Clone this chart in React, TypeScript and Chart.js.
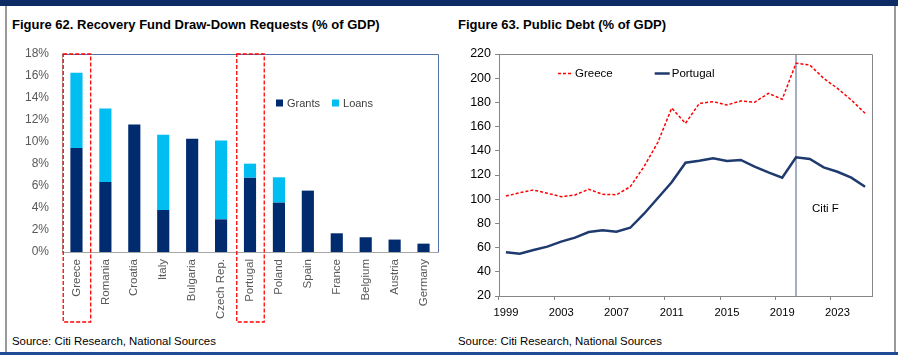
import React, { useEffect, useRef } from 'react';
import { Chart, registerables } from 'chart.js';

Chart.register(...registerables);

const FONT = '"Liberation Sans", Arial, sans-serif';
Chart.defaults.font.family = FONT;
Chart.defaults.font.size = 12;

// ---------- Figure 62 data ----------
const countries = ['Greece', 'Romania', 'Croatia', 'Italy', 'Bulgaria', 'Czech Rep.', 'Portugal', 'Poland', 'Spain', 'France', 'Belgium', 'Austria', 'Germany'];
const grants = [9.45, 6.36, 11.6, 3.82, 10.3, 2.97, 6.76, 4.49, 5.58, 1.7, 1.34, 1.13, 0.76];
const loans = [6.85, 6.68, 0, 6.85, 0, 7.16, 1.27, 2.3, 0, 0, 0, 0, 0];
const highlighted = ['Greece', 'Portugal'];
const barSeriesNames = ['Grants', 'Loans'];

// ---------- Figure 63 data ----------
const years = ['1999', '2000', '2001', '2002', '2003', '2004', '2005', '2006', '2007', '2008', '2009', '2010', '2011', '2012', '2013', '2014', '2015', '2016', '2017', '2018', '2019', '2020', '2021', '2022', '2023', '2024', '2025'];
const greeceDebt = [102.6, 105.4, 107.6, 104.9, 102.1, 103.5, 108.2, 104.0, 103.7, 110.3, 127, 147, 175.3, 162.7, 179.2, 180.6, 177.9, 181.2, 180.1, 187.5, 182.6, 212.3, 210.9, 199.9, 191.6, 182, 171];
const portugalDebt = [56.1, 55.0, 58.0, 60.8, 64.9, 68.2, 72.9, 74.3, 73.2, 76.4, 88, 101, 114, 130.2, 131.8, 133.8, 131.6, 132.4, 126.9, 122.2, 117.8, 134.6, 133.2, 126.3, 122.7, 117.8, 110.3];
const lineSeriesNames = ['Greece', 'Portugal'];
const forecastStart = '2020';
const forecastLabel = 'Citi F';

const NAVY = '#002B6F';
const CYAN = '#00BDF2';

function BarChart() {
  const ref = useRef<HTMLCanvasElement | null>(null);
  useEffect(() => {
    if (!ref.current) return;
    const frame = {
      id: 'frame62',
      afterDraw(chart: any) {
        const { ctx, chartArea: ca } = chart;
        ctx.save();
        ctx.strokeStyle = '#5473AE';
        ctx.lineWidth = 1;
        ctx.beginPath();
        ctx.moveTo(ca.left, ca.top + 0.5);
        ctx.lineTo(ca.right + 0.5, ca.top + 0.5);
        ctx.lineTo(ca.right + 0.5, ca.bottom);
        ctx.stroke();
        // legend
        let x = ca.left + 214;
        const y = ca.top + 49;
        ctx.font = '11px ' + FONT;
        ctx.textBaseline = 'middle';
        chart.data.datasets.forEach((ds: any) => {
          ctx.fillStyle = ds.backgroundColor;
          ctx.fillRect(x, y - 3.5, 7, 7);
          ctx.fillStyle = '#404040';
          ctx.fillText(ds.label, x + 11, y + 0.5);
          x += 11 + ctx.measureText(ds.label).width + 12;
        });
        // highlight boxes
        const xs = chart.scales.x;
        const cw = xs.width / chart.data.labels.length;
        ctx.strokeStyle = '#FF0000';
        ctx.lineWidth = 1.3;
        ctx.setLineDash([4, 2]);
        highlighted.forEach((name) => {
          const i = chart.data.labels.indexOf(name);
          const cx = xs.getPixelForValue(i);
          const w = cw * 0.95;
          ctx.strokeRect(cx - w / 2 + 0.5, ca.top, w, ca.bottom + 70 - ca.top);
        });
        ctx.restore();
      },
    };
    const chart = new Chart(ref.current, {
      type: 'bar',
      data: {
        labels: countries,
        datasets: [
          { label: barSeriesNames[0], data: grants, backgroundColor: NAVY, barPercentage: 0.42, categoryPercentage: 1 },
          { label: barSeriesNames[1], data: loans, backgroundColor: CYAN, barPercentage: 0.42, categoryPercentage: 1 },
        ],
      },
      options: {
        animation: false,
        responsive: false,
        maintainAspectRatio: false,
        layout: { padding: { left: 12, right: 12, top: 14, bottom: 8 } },
        plugins: { legend: { display: false }, tooltip: { enabled: false } },
        scales: {
          x: {
            stacked: true,
            grid: { display: false, drawTicks: false },
            border: { display: true, color: '#A6A6A6' },
            ticks: { color: '#595959', minRotation: 90, maxRotation: 90, autoSkip: false, padding: 7, font: { size: 11.5 } },
            afterFit: (s: any) => { s.height = 70; s.paddingLeft = 0; s.paddingRight = 0; },
          },
          y: {
            stacked: true,
            min: 0,
            max: 18,
            grid: { display: false, drawTicks: false },
            border: { display: true, color: '#A6A6A6' },
            ticks: { stepSize: 2, color: '#595959', padding: 13, font: { size: 12 }, callback: (v: any) => v + '%' },
            afterFit: (s: any) => { s.width = 50; s.paddingTop = 0; s.paddingBottom = 0; },
          },
        },
      },
      plugins: [frame],
    } as any);
    return () => chart.destroy();
  }, []);
  return <canvas ref={ref} width={450} height={290} style={{ position: 'absolute', left: 0, top: 40, width: 450, height: 290 }} />;
}

function LineChart() {
  const ref = useRef<HTMLCanvasElement | null>(null);
  useEffect(() => {
    if (!ref.current) return;
    const frame = {
      id: 'frame63',
      beforeDatasetsDraw(chart: any) {
        const { ctx, chartArea: ca } = chart;
        const xs = chart.scales.x;
        const fx = xs.getPixelForValue(years.indexOf(forecastStart));
        ctx.save();
        ctx.strokeStyle = '#8496B0';
        ctx.lineWidth = 1.5;
        ctx.beginPath();
        ctx.moveTo(fx, ca.top);
        ctx.lineTo(fx, ca.bottom);
        ctx.stroke();
        ctx.fillStyle = '#000';
        ctx.font = '11.5px ' + FONT;
        ctx.textBaseline = 'middle';
        ctx.fillText(forecastLabel, fx + 16, ca.top + 155);
        ctx.restore();
      },
      afterDraw(chart: any) {
        const { ctx, chartArea: ca } = chart;
        ctx.save();
        ctx.strokeStyle = '#868686';
        ctx.lineWidth = 1;
        ctx.beginPath();
        ctx.moveTo(ca.left, ca.top + 0.5);
        ctx.lineTo(ca.right + 0.5, ca.top + 0.5);
        ctx.lineTo(ca.right + 0.5, ca.bottom);
        ctx.stroke();
        // legend
        let x = ca.left + 59;
        const y = ca.top + 19.5;
        ctx.font = '11.5px ' + FONT;
        ctx.textBaseline = 'middle';
        chart.data.datasets.forEach((ds: any) => {
          ctx.strokeStyle = ds.borderColor;
          ctx.lineWidth = ds.borderWidth;
          ctx.setLineDash(ds.borderDash || []);
          ctx.beginPath();
          ctx.moveTo(x, y);
          ctx.lineTo(x + 15, y);
          ctx.stroke();
          ctx.setLineDash([]);
          ctx.fillStyle = '#000';
          ctx.fillText(ds.label, x + 17, y + 0.5);
          x += 17 + ctx.measureText(ds.label).width + 42;
        });
        ctx.restore();
      },
    };
    const chart = new Chart(ref.current, {
      type: 'line',
      data: {
        labels: years,
        datasets: [
          { label: lineSeriesNames[0], data: greeceDebt, borderColor: '#FF0000', borderWidth: 1.5, borderDash: [3, 2], pointRadius: 0, tension: 0, fill: false },
          { label: lineSeriesNames[1], data: portugalDebt, borderColor: '#1F3A6E', borderWidth: 2.5, pointRadius: 0, tension: 0, fill: false },
        ],
      },
      options: {
        animation: false,
        responsive: false,
        maintainAspectRatio: false,
        layout: { padding: { left: 8, right: 23, top: 14, bottom: 8 } },
        plugins: { legend: { display: false }, tooltip: { enabled: false } },
        scales: {
          x: {
            type: 'category',
            offset: true,
            grid: {
              offset: true,
              display: true,
              drawOnChartArea: false,
              drawTicks: true,
              tickLength: 4,
              color: (c: any) => (c.index % 4 === 0 ? '#868686' : 'rgba(0,0,0,0)'),
            },
            border: { display: true, color: '#868686' },
            ticks: {
              autoSkip: false,
              maxRotation: 0,
              minRotation: 0,
              padding: 6,
              color: '#000',
              font: { size: 11.2 },
              callback: (_v: any, i: number) => (i % 4 === 0 ? years[i] : ''),
            },
            afterFit: (s: any) => { s.height = 26; s.paddingLeft = 0; s.paddingRight = 0; },
          },
          y: {
            min: 20,
            max: 220,
            grid: { drawOnChartArea: false, drawTicks: true, tickLength: 4, color: '#868686' },
            border: { display: true, color: '#868686' },
            ticks: { stepSize: 20, padding: 4, color: '#000', font: { size: 12.5 } },
            afterFit: (s: any) => { s.width = 41; s.paddingTop = 0; s.paddingBottom = 0; },
          },
        },
      },
      plugins: [frame],
    } as any);
    return () => chart.destroy();
  }, []);
  return <canvas ref={ref} width={445} height={290} style={{ position: 'absolute', left: 450, top: 40, width: 445, height: 290 }} />;
}

export default function App() {
  const titleStyle: React.CSSProperties = { position: 'absolute', top: 17, fontSize: 13, lineHeight: '16px', fontWeight: 'bold', color: '#000', whiteSpace: 'nowrap' };
  const srcStyle: React.CSSProperties = { position: 'absolute', top: 333.5, fontSize: 11.4, lineHeight: '14px', color: '#000', whiteSpace: 'nowrap' };
  return (
    <div style={{ position: 'absolute', left: 0, top: 0, width: 900, height: 357, background: '#fff', fontFamily: FONT, overflow: 'hidden' }}>
      <div style={{ position: 'absolute', left: 0, top: 0, width: 898, height: 6, background: '#0D2B64' }} />
      <div style={{ position: 'absolute', left: 0, top: 352, width: 898, height: 2.5, background: '#1E4A96' }} />
      <div style={{ position: 'absolute', left: 5, top: 6, width: 1.5, height: 346, background: '#9A9A9A' }} />
      <div style={{ position: 'absolute', left: 894, top: 6, width: 1.5, height: 346, background: '#9A9A9A' }} />
      <div style={{ ...titleStyle, left: 12 }}>Figure 62. Recovery Fund Draw-Down Requests (% of GDP)</div>
      <div style={{ ...titleStyle, left: 458 }}>Figure 63. Public Debt (% of GDP)</div>
      <BarChart />
      <LineChart />
      <div style={{ ...srcStyle, left: 12 }}>Source: Citi Research, National Sources</div>
      <div style={{ ...srcStyle, left: 458 }}>Source: Citi Research, National Sources</div>
    </div>
  );
}
